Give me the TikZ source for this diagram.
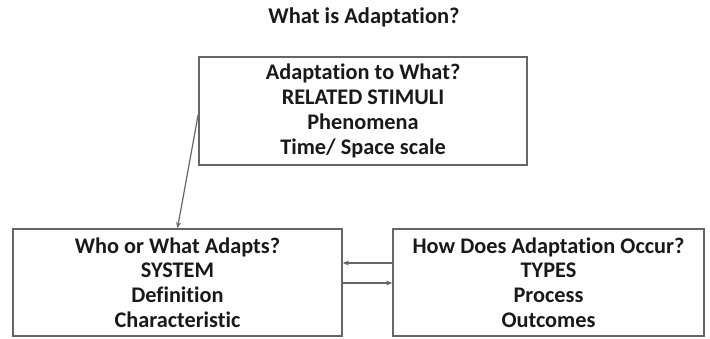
\documentclass[tikz,border=0pt]{standalone}
\usepackage{fontspec}
\setmainfont[Ligatures=NoCommon]{Carlito}
\usetikzlibrary{arrows.meta}
\begin{document}
\begin{tikzpicture}[x=1pt,y=1pt,
  box/.style={draw=black!60, line width=1.8pt, rectangle, align=center, inner sep=0pt,
    font=\fontsize{22.3}{24.8}\selectfont\bfseries, text=black!90},
  conn/.style={draw=black!60, line width=1.2pt, -{Stealth[length=6pt,width=5pt]}},
  ttl/.style={font=\fontsize{22.5}{24}\selectfont\bfseries, text=black!90}]
\useasboundingbox (0,0) rectangle (710,-338);
\node[ttl] (title) at (364,-17) {What is Adaptation?};
\node[box, minimum width=328pt, minimum height=108pt] (top) at (363,-111)
  {Adaptation to What?\\RELATED STIMULI\\Phenomena\\Time/ Space scale};
\node[box, minimum width=329pt, minimum height=107pt] (left) at (177.5,-282.5)
  {Who or What Adapts?\\SYSTEM\\Definition\\Characteristic};
\node[box, minimum width=311pt, minimum height=107pt] (right) at (548.5,-282.5)
  {How Does Adaptation Occur?\\TYPES\\Process\\Outcomes};
\draw[conn] ([yshift=-4pt]top.west) -- (left.north);
\draw[conn] ([yshift=19.5pt]right.west) -- ([yshift=19.5pt]left.east);
\draw[conn] ([yshift=-0.5pt]left.east) -- ([yshift=-0.5pt]right.west);
\end{tikzpicture}
\end{document}
